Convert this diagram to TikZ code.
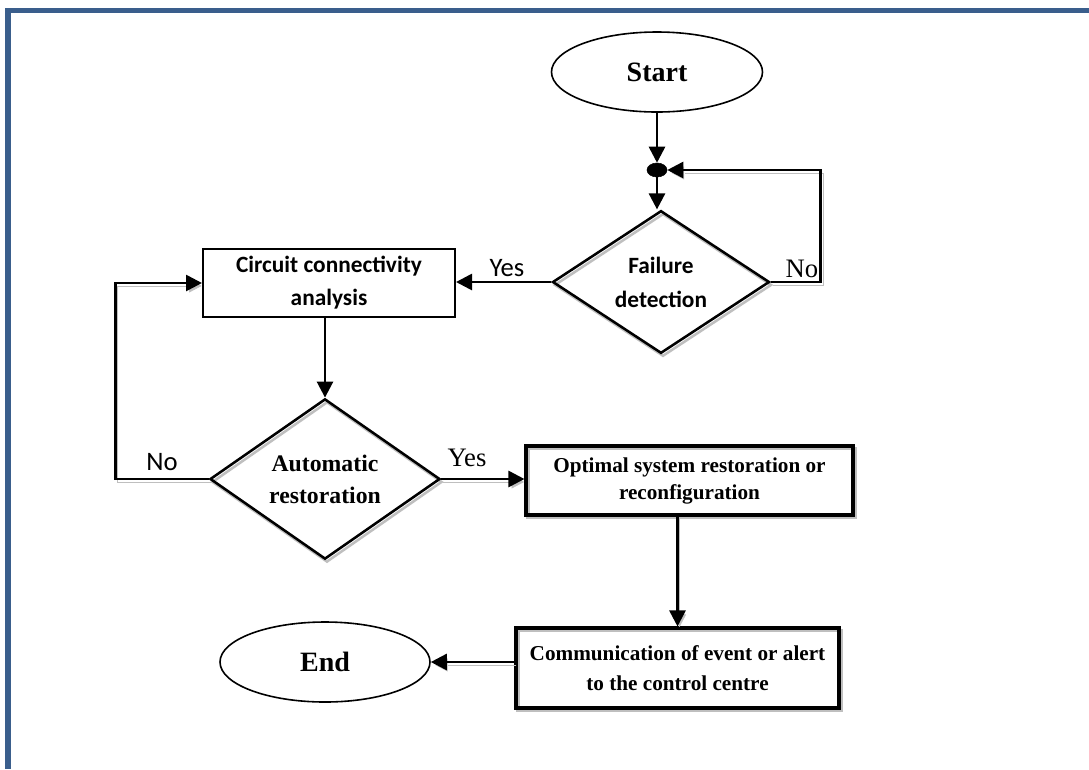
\documentclass[tikz,border=0pt]{standalone}
\usepackage{fontspec}
\setmainfont{Liberation Serif}
\newfontfamily\calfont{Carlito}
\usetikzlibrary{shapes.geometric,arrows.meta,calc}
\definecolor{frameblue}{RGB}{58,94,140}
\begin{document}
\begin{tikzpicture}[x=0.75pt,y=-0.75pt,
  shd/.style={preaction={draw=gray!50,transform canvas={shift={(1.5pt,-2.2pt)}}}},
  oval/.style={ellipse,draw,line width=1.2pt,inner sep=0pt,font=\fontsize{21}{24}\selectfont\bfseries},
  dia/.style={diamond,draw,line width=1.9pt,inner sep=0pt,align=center,shd},
  sbox/.style={rectangle,draw,line width=1.5pt,inner sep=0pt,align=center},
  tbox/.style={rectangle,draw,line width=2.3pt,inner sep=0pt,align=center,shd},
  arr/.style={line width=2pt,-{Triangle[length=12pt,width=12pt]}},
  sanslab/.style={font=\calfont\fontsize{20}{24}\selectfont,inner sep=0pt},
  serlab/.style={font=\fontsize{20}{24}\selectfont,inner sep=0pt}
]
\useasboundingbox (0,0) rectangle (1089,769);
\fill[white] (0,0) rectangle (1089,769);
\fill[frameblue] (5,8) rectangle (1089,13);
\fill[frameblue] (5,8) rectangle (11,769);

% nodes
\node[oval,minimum width=211*0.75pt,minimum height=80*0.75pt] (start) at (657,72) {Start};
\node[ellipse,fill=black,draw=black,minimum width=20*0.75pt,minimum height=14*0.75pt,inner sep=0pt] (dot) at (657,170) {};
\node[dia,minimum width=217*0.75pt,minimum height=121*0.75pt,font=\calfont\bfseries\fontsize{17.5}{25.5}\selectfont] (fail) at (661,282) {Failure\\detection};
\node[sbox,minimum width=252*0.75pt,minimum height=68*0.75pt,font=\calfont\bfseries\fontsize{17.5}{24.75}\selectfont] (circ) at (329,283) {Circuit connectivity\\analysis};
\node[dia,minimum width=230*0.75pt,minimum height=137*0.75pt,font=\bfseries\fontsize{17.8}{24}\selectfont] (auto) at (325,479) {Automatic\\restoration};
\node[tbox,minimum width=327*0.75pt,minimum height=69*0.75pt,font=\bfseries\fontsize{15.9}{20.25}\selectfont] (opt) at (689.5,480.5) {Optimal system restoration or\\reconfiguration};
\node[tbox,minimum width=323*0.75pt,minimum height=80*0.75pt,font=\bfseries\fontsize{15.9}{23}\selectfont] (comm) at (677.5,668) {Communication of event or alert\\to the control centre};
\node[oval,minimum width=210*0.75pt,minimum height=80*0.75pt] (end) at (325,662) {End};

% labels
\node[sanslab] (yes1) at (507,268) {Yes};
\node[serlab] (no1) at (802,269) {No};
\node[sanslab] (no2) at (162,462) {No};
\node[serlab] (yes2) at (467,458) {Yes};

% connectors
\draw[arr] (start.south) -- (dot.north);
\draw[arr] (dot.south) -- (dot.south |- fail.north);
\draw[arr,shd] (fail.east) -- ++(50,0) |- (dot.east);
\draw[arr] (fail.west) -- (fail.west -| circ.east);
\draw[arr] (auto.north |- circ.south) -- (auto.north);
\draw[arr,shd] (auto.west) -- ++(-93,0) |- (circ.west);
\draw[arr,shd] (auto.east) -- (auto.east -| opt.west);
\draw[arr,shd] (comm.north |- opt.south) -- (comm.north);
\draw[arr,shd] (end.east -| comm.west) -- (end.east);
\end{tikzpicture}
\end{document}
